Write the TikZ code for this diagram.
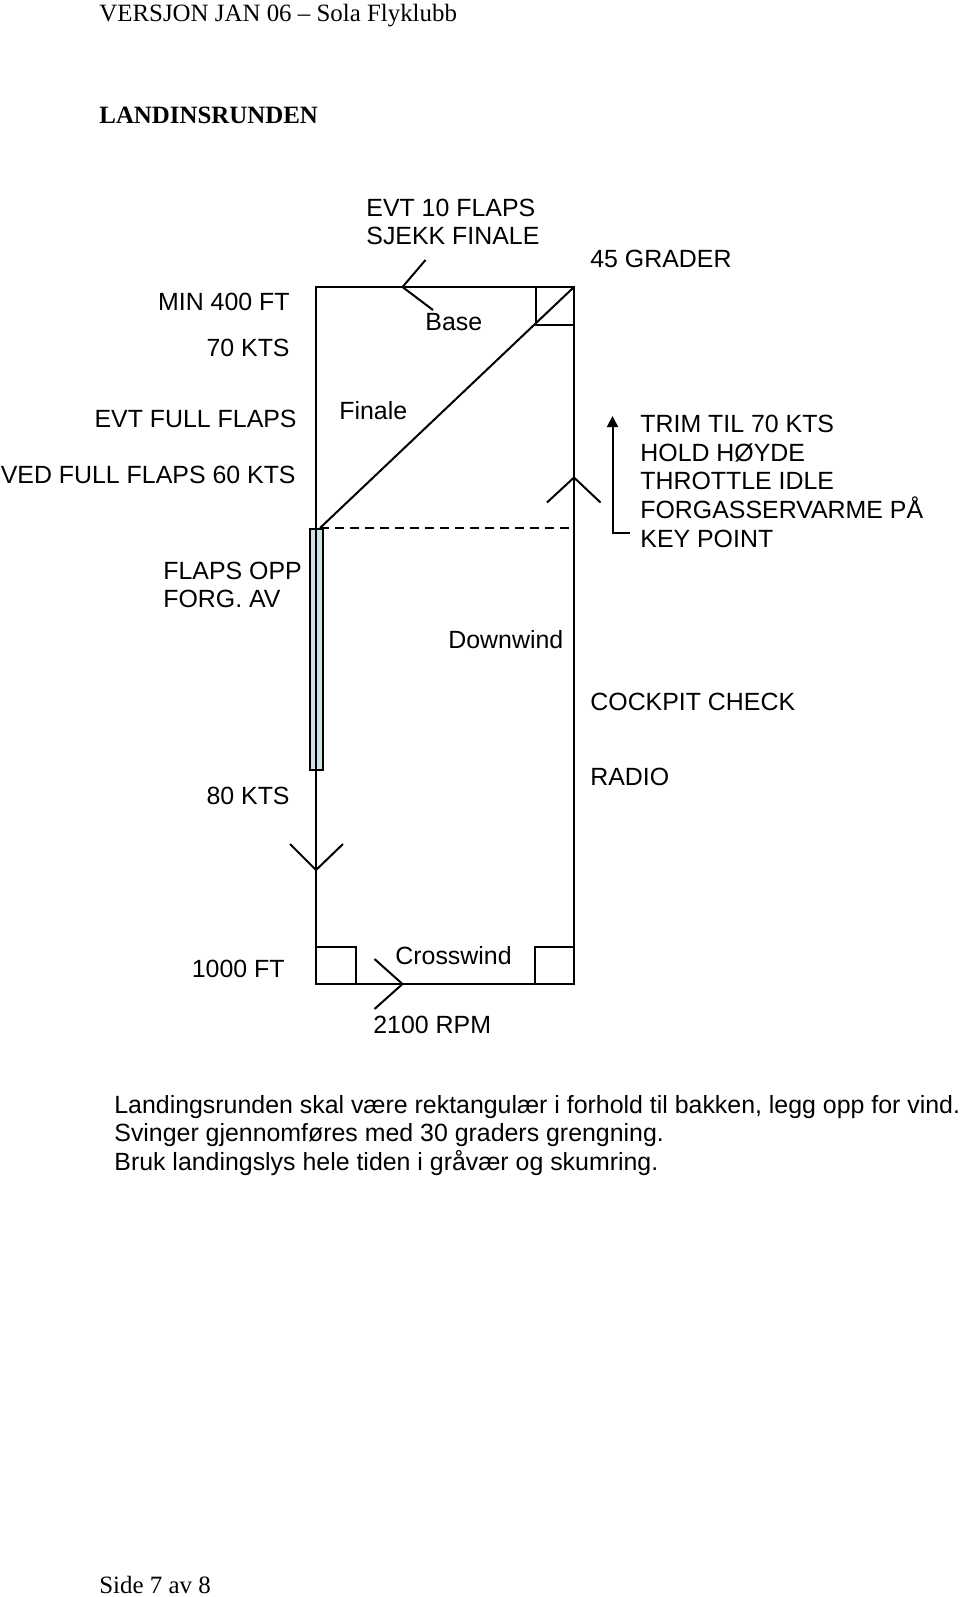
\documentclass[tikz,border=0pt]{standalone}
\usepackage{fontspec}
\setmainfont{Liberation Serif}
\newfontfamily\arial{Liberation Sans}
\usetikzlibrary{arrows.meta}
\definecolor{barblue}{RGB}{200,228,228}
\tikzset{
  lbl/.style={inner sep=0pt, font=\arial\fontsize{12.45}{14}\selectfont},
  lblw/.style={lbl, anchor=base west},
  lble/.style={lbl, anchor=base east},
  hdr/.style={inner sep=0pt, anchor=base west, font=\fontsize{12.45}{14}\selectfont},
  path/.style={line width=1pt, line join=miter},
  chev/.style={line width=1pt},
}
\begin{document}
\begin{tikzpicture}[x=0.5pt,y=-0.5pt]
\useasboundingbox (0,0) rectangle (960,1597);
% header / footer
\node[hdr] (ver) at (99,21) {VERSJON JAN 06 -- Sola Flyklubb};
\node[hdr, font=\bfseries\fontsize{12.45}{14}\selectfont] (title) at (99,123) {LANDINSRUNDEN};
\node[hdr] (side) at (99,1593) {Side 7 av 8};
% corners
\coordinate (tl) at (316,287);
\coordinate (tr) at (574,287);
\coordinate (bl) at (316,984);
\coordinate (br) at (574,984);
\coordinate (kp) at (574,528);
\coordinate (fe) at (320,528);
% blue bar
\node[draw, line width=0.8pt, fill=barblue, minimum width=6.5pt, minimum height=120.5pt, inner sep=0pt, anchor=north] (bar) at (316.5,528) {};
% pattern rectangle
\draw[path] (tl) -- (tr) -- (br) -- (bl) -- cycle;
% diagonal
\draw[path] (tr) -- (fe);
% dashed
\draw[line width=1pt, dash pattern=on 4.5pt off 3pt] (fe) -- (kp);
% corner squares
\draw[path] (535.5,287) -- (535.5,325) -- (574,325);
\draw[path] (316,946.5) -- (355.5,946.5) -- (355.5,984);
\draw[path] (535,984) -- (535,946.5) -- (574,946.5);
% chevrons
\coordinate (cb) at (402.5,287);
\draw[chev] (425.5,260) -- (cb) -- (433,310);
\coordinate (cr) at (574,477.5);
\draw[chev] (547,502.5) -- (cr) -- (600.5,502.5);
\coordinate (cl) at (316,870);
\draw[chev] (290,844) -- (cl) -- (343,844);
\coordinate (cc) at (402.5,984);
\draw[chev] (374.5,959) -- (cc) -- (374.5,1009);
% key point arrow
\coordinate (ka) at (630,533);
\coordinate (kb) at (612.5,533);
\coordinate (kc) at (612.5,416);
\draw[line width=1pt, -{Triangle[length=5.5pt,width=5.5pt]}] (ka) -- (kb) -- (kc);
% labels
\node[lblw] (evt) at (366,216) {EVT 10 FLAPS};
\node[lblw] (sjekk) at (366,244) {SJEKK FINALE};
\node[lblw] (grad) at (590,267) {45 GRADER};
\node[lblw] (base) at (425,330) {Base};
\node[lble] (min) at (290,310) {MIN 400 FT};
\node[lble] (kts70) at (290,356) {70 KTS};
\node[lble] (evtf) at (297,427) {EVT FULL FLAPS};
\node[lble] (ved) at (296,483) {VED FULL FLAPS 60 KTS};
\node[lblw] (fin) at (339,419) {Finale};
\node[lblw] (t1) at (640,432) {TRIM TIL 70 KTS};
\node[lblw] (t2) at (640,461) {HOLD HØYDE};
\node[lblw] (t3) at (640,489.5) {THROTTLE IDLE};
\node[lblw] (t4) at (640,518.5) {FORGASSERVARME PÅ};
\node[lblw] (t5) at (640,547) {KEY POINT};
\node[lblw] (fo) at (163,579) {FLAPS OPP};
\node[lblw] (fa) at (163,607) {FORG. AV};
\node[lblw] (dw) at (448,648) {Downwind};
\node[lblw] (cp) at (590,710) {COCKPIT CHECK};
\node[lblw] (rad) at (590,785) {RADIO};
\node[lble] (k80) at (290,804) {80 KTS};
\node[lble] (ft) at (285,977) {1000 FT};
\node[lblw] (cw) at (395,964) {Crosswind};
\node[lblw] (rpm) at (373,1033) {2100 RPM};
\node[lblw] (p1) at (114,1113) {Landingsrunden skal være rektangulær i forhold til bakken, legg opp for vind.};
\node[lblw] (p2) at (114,1141.5) {Svinger gjennomføres med 30 graders grengning.};
\node[lblw] (p3) at (114,1170) {Bruk landingslys hele tiden i gråvær og skumring.};
\end{tikzpicture}
\end{document}
